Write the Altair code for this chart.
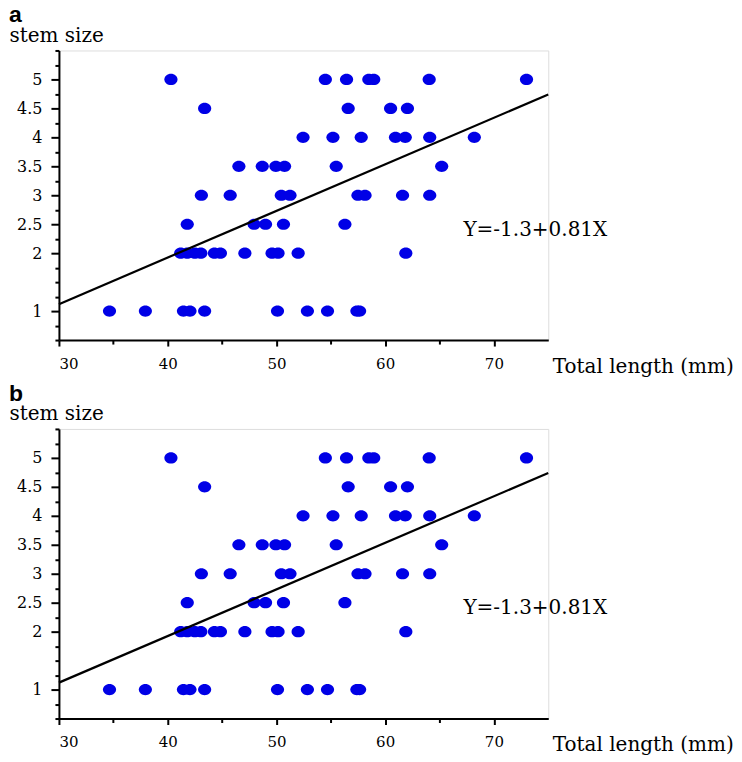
import altair as alt
import pandas as pd

# ---- data ----
stem_5 = [40.3, 54.5, 56.45, 58.5, 58.95, 64.05, 73.0]
stem_45 = [43.4, 56.6, 60.5, 62.05]
stem_4 = [52.45, 55.2, 57.8, 60.95, 61.85, 64.1, 68.2]
stem_35 = [46.55, 48.7, 49.95, 50.75, 55.5, 65.2]
stem_3 = [43.1, 45.75, 50.45, 51.25, 57.5, 58.15, 61.6, 64.1]
stem_25 = [41.8, 47.95, 49.0, 50.65, 56.3]
stem_2 = [41.2, 41.8, 42.5, 43.05, 44.3, 44.85, 47.1, 49.6, 50.15, 52.0, 61.9]
stem_1 = [34.65, 37.95, 41.45, 42.05, 43.4, 50.1, 52.85, 54.7, 57.4, 57.65]

rows = {5: stem_5, 4.5: stem_45, 4: stem_4, 3.5: stem_35, 3: stem_3,
        2.5: stem_25, 2: stem_2, 1: stem_1}

fit_x = [30, 75]
fit_y = [1.12, 4.74]

eq_text = ["Y=-1.3+0.81X"]
eq_x = [67.2]
eq_y = [2.4]

x_ticks = [30, 35, 40, 45, 50, 55, 60, 65, 70]
x_labels = [30, 40, 50, 60, 70]
y_ticks = [0.5, 0.75, 1, 1.25, 1.5, 1.75, 2, 2.25, 2.5, 2.75, 3, 3.25, 3.5, 3.75,
           4, 4.25, 4.5, 4.75, 5, 5.25, 5.5]
y_labels = [1, 2, 2.5, 3, 3.5, 4, 4.5, 5]

pts = pd.DataFrame([{"length": x, "stem": y} for y, xs in rows.items() for x in xs])
line_df = pd.DataFrame({"length": fit_x, "stem": fit_y})
eq_df = pd.DataFrame({"length": eq_x, "stem": eq_y, "t": eq_text})

SERIF = "DejaVu Serif"
ELLIPSE = "M-1.18,0A1.18,1 0 1,1 1.18,0A1.18,1 0 1,1 -1.18,0Z"

xlab_test = "indexof([30,40,50,60,70], datum.value) >= 0"
ylab_test = "indexof([1,2,2.5,3,3.5,4,4.5,5], datum.value) >= 0"


def panel(letter, h):
    xsc = alt.Scale(domain=[30, 75], nice=False, zero=False)
    ysc = alt.Scale(domain=[0.5, 5.5], nice=False, zero=False)
    xax = alt.Axis(values=x_ticks, labelExpr=xlab_test + " ? format(datum.value, 'd') : ''",
                   tickSize={"condition": {"test": xlab_test, "value": 6}, "value": 4},
                   grid=False, domainColor="black", domainWidth=2, tickColor="black", tickWidth=2,
                   labelFont=SERIF, labelFontSize=15, labelColor="black", labelPadding=10,
                   title="Total length (mm)", titleFont=SERIF, titleFontSize=20, titleFontWeight="normal",
                   titleColor="black", titleAlign="left", titleAnchor="start", titleBaseline="alphabetic",
                   titleX=494, titleY=32)
    yax = alt.Axis(values=y_ticks, labelExpr=ylab_test + " ? format(datum.value, '~g') : ''",
                   tickSize={"condition": {"test": ylab_test, "value": 8}, "value": 4},
                   grid=False, domainColor="black", domainWidth=2, tickColor="black", tickWidth=2,
                   labelFont=SERIF, labelFontSize=16, labelColor="black", labelPadding=9,
                   labelOverlap=False,
                   title="stem size", titleFont=SERIF, titleFontSize=20, titleFontWeight="normal",
                   titleColor="black", titleAngle=0, titleAlign="left", titleBaseline="alphabetic",
                   titleX=-50, titleY=-9)
    X = alt.X("length:Q", scale=xsc, axis=xax)
    Y = alt.Y("stem:Q", scale=ysc, axis=yax)
    base = alt.Chart(pts).mark_point(filled=True, shape=ELLIPSE, size=125, color="#0000E6", opacity=1).encode(
        x=X, y=Y)
    fit = alt.Chart(line_df).mark_line(color="black", strokeWidth=2.2).encode(x=X, y=Y)
    eq = alt.Chart(eq_df).mark_text(align="left", baseline="middle", font=SERIF, fontSize=20, color="black").encode(
        x=X, y=Y, text="t:N")
    return alt.layer(base, fit, eq).properties(
        width=490, height=h,
        title=alt.TitleParams(letter, anchor="start", dx=0, font="Liberation Sans", fontSize=23,
                              fontWeight="bold", color="black", offset=-2),
    )


chart = alt.vconcat(panel("a", 290), panel("b", 290), spacing=5).properties(
    padding={"top": -5, "left": 0, "right": 0, "bottom": 0}).configure_view(
    stroke=None).configure(background="white")

chart.save("out.html", embed_options={"renderer": "svg", "actions": False})
